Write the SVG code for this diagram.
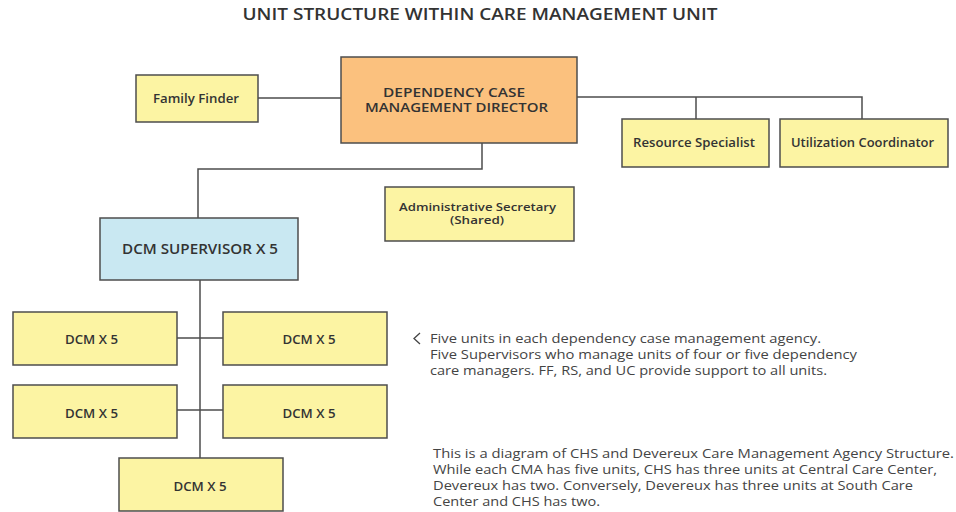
<svg xmlns="http://www.w3.org/2000/svg" width="956" height="512" viewBox="0 0 956 512">
<style>
.box{stroke:#4d4d4d;stroke-width:1.5}
.y{fill:#fcf4a3}
.o{fill:#fbc17e}
.b{fill:#c9e8f2}
.t{font-family:"Open Sans","Liberation Sans",sans-serif;font-weight:600;fill:#333;text-anchor:middle}
.n{font-family:"Open Sans","Liberation Sans",sans-serif;font-size:12.5px;fill:#444}
.c{fill:none;stroke:#4d4d4d;stroke-width:1.5}
</style>
<rect width="956" height="512" fill="#fff"/>
<text x="480" y="20" class="t" font-size="15.5" textLength="475" lengthAdjust="spacingAndGlyphs">UNIT STRUCTURE WITHIN CARE MANAGEMENT UNIT</text>
<g id="connectors">
<path class="c" d="M258 98H341"/>
<path class="c" d="M577 97H862V119M696 97V119"/>
<path class="c" d="M482 143V169H198V218"/>
<path class="c" d="M200 280V458M177 338H223M177 410H223"/>
</g>
<g id="family-finder"><rect class="box y" x="136" y="75" width="122" height="47"/><text class="t" x="196" y="103" font-size="12.5" textLength="86" lengthAdjust="spacingAndGlyphs">Family Finder</text></g>
<g id="director"><rect class="box o" x="341" y="57" width="236" height="86"/><text class="t" x="454" y="97" font-size="13" textLength="142" lengthAdjust="spacingAndGlyphs">DEPENDENCY CASE</text><text class="t" x="456.5" y="112" font-size="13" textLength="183" lengthAdjust="spacingAndGlyphs">MANAGEMENT DIRECTOR</text></g>
<g id="resource-specialist"><rect class="box y" x="622" y="119" width="147" height="48"/><text class="t" x="694" y="147" font-size="12.5" textLength="122" lengthAdjust="spacingAndGlyphs">Resource Specialist</text></g>
<g id="utilization-coordinator"><rect class="box y" x="780" y="119" width="168" height="48"/><text class="t" x="862.5" y="147" font-size="12.5" textLength="143" lengthAdjust="spacingAndGlyphs">Utilization Coordinator</text></g>
<g id="admin-secretary"><rect class="box y" x="385" y="187" width="189" height="54"/><text class="t" x="477.5" y="211" font-size="11.5" textLength="157" lengthAdjust="spacingAndGlyphs">Administrative Secretary</text><text class="t" x="477" y="224" font-size="11.5" textLength="54" lengthAdjust="spacingAndGlyphs">(Shared)</text></g>
<g id="supervisor"><rect class="box b" x="100" y="218" width="198" height="62"/><text class="t" x="200" y="254" font-size="14" textLength="156" lengthAdjust="spacingAndGlyphs">DCM SUPERVISOR X 5</text></g>
<g id="dcm1"><rect class="box y" x="13" y="312" width="164" height="53"/><text class="t" x="91.5" y="344" font-size="13" textLength="53" lengthAdjust="spacingAndGlyphs">DCM X 5</text></g>
<g id="dcm2"><rect class="box y" x="223" y="312" width="164" height="53"/><text class="t" x="309" y="344" font-size="13" textLength="53" lengthAdjust="spacingAndGlyphs">DCM X 5</text></g>
<g id="dcm3"><rect class="box y" x="13" y="385" width="164" height="53"/><text class="t" x="91.5" y="418" font-size="13" textLength="53" lengthAdjust="spacingAndGlyphs">DCM X 5</text></g>
<g id="dcm4"><rect class="box y" x="223" y="385" width="164" height="53"/><text class="t" x="309" y="418" font-size="13" textLength="53" lengthAdjust="spacingAndGlyphs">DCM X 5</text></g>
<g id="dcm5"><rect class="box y" x="119" y="458" width="164" height="53"/><text class="t" x="200" y="491" font-size="13" textLength="53" lengthAdjust="spacingAndGlyphs">DCM X 5</text></g>
<g id="note1">
<path d="M420 333L414 338.5L420 344" fill="none" stroke="#444" stroke-width="1.3"/>
<text class="n" x="430" y="343" textLength="391" lengthAdjust="spacingAndGlyphs">Five units in each dependency case management agency.</text>
<text class="n" x="430" y="359" textLength="427" lengthAdjust="spacingAndGlyphs">Five Supervisors who manage units of four or five dependency</text>
<text class="n" x="430" y="375" textLength="397" lengthAdjust="spacingAndGlyphs">care managers. FF, RS, and UC provide support to all units.</text>
</g>
<g id="note2">
<text class="n" x="433" y="458" textLength="521" lengthAdjust="spacingAndGlyphs">This is a diagram of CHS and Devereux Care Management Agency Structure.</text>
<text class="n" x="433" y="474" textLength="504" lengthAdjust="spacingAndGlyphs">While each CMA has five units, CHS has three units at Central Care Center,</text>
<text class="n" x="433" y="490" textLength="480" lengthAdjust="spacingAndGlyphs">Devereux has two. Conversely, Devereux has three units at South Care</text>
<text class="n" x="433" y="506" textLength="167" lengthAdjust="spacingAndGlyphs">Center and CHS has two.</text>
</g>
</svg>
